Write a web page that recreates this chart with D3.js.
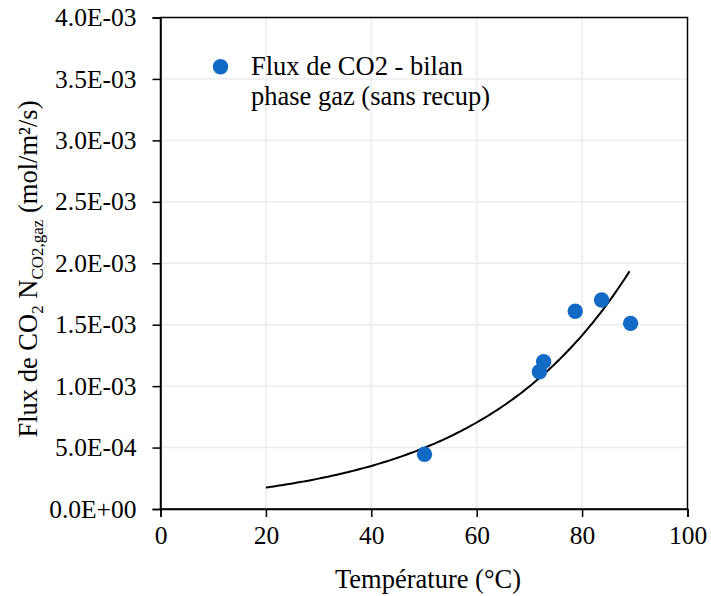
<!DOCTYPE html>
<html><head><meta charset="utf-8">
<script src="https://cdn.jsdelivr.net/npm/d3@7"></script>
<style>body{margin:0;background:#fff}svg{display:block}text{font-family:"Liberation Serif","Times New Roman",serif;fill:#000}</style>
</head><body><svg id="c" width="711" height="596"></svg>
<script>
const temps = [50.1, 71.9, 72.7, 78.7, 83.7, 89.2];
const flux = [0.000445, 0.001117, 0.001199, 0.001609, 0.001701, 0.001511];
const xTicks = [0, 20, 40, 60, 80, 100];
const yTicks = [0, 0.0005, 0.001, 0.0015, 0.002, 0.0025, 0.003, 0.0035, 0.004];
const trendRange = [20, 89];
const seriesName = ["Flux de CO2 - bilan", "phase gaz (sans recup)"];

const svg = d3.select("#c");
const L = 160.5, R = 687.5, T = 17.5, B = 509;
const x = d3.scaleLinear().domain([0, 100]).range([L, R]);
const y = d3.scaleLinear().domain([0, 0.004]).range([B, T]);

// grid
svg.append("g").selectAll("line").data(xTicks.slice(1, -1)).join("line")
  .attr("x1", d => x(d)).attr("x2", d => x(d)).attr("y1", T).attr("y2", B)
  .attr("stroke", "#ececec").attr("stroke-width", 1.5);
svg.append("g").selectAll("line").data(yTicks.slice(1, -1)).join("line")
  .attr("y1", d => y(d)).attr("y2", d => y(d)).attr("x1", L).attr("x2", R)
  .attr("stroke", "#ececec").attr("stroke-width", 1.5);

// frame
svg.append("rect").attr("x", L).attr("y", T).attr("width", R - L).attr("height", B - T)
  .attr("fill", "none").attr("stroke", "#000").attr("stroke-width", 1.5);

// axes
const fmt = d => d === 0 ? "0.0E+00" : d3.format(".1e")(d).replace("e-", "E-0").replace(/E-0(\d\d)/, "E-$1");
const xa = svg.append("g").attr("transform", `translate(0,${B})`)
  .call(d3.axisBottom(x).tickValues(xTicks).tickSize(8).tickPadding(9).tickFormat(d3.format("d")));
const ya = svg.append("g").attr("transform", `translate(${L},0)`)
  .call(d3.axisLeft(y).tickValues(yTicks).tickSize(8).tickPadding(16).tickFormat(fmt));
[xa, ya].forEach(a => {
  a.select(".domain").attr("stroke", "#000").attr("stroke-width", 1.5);
  a.selectAll(".tick line").attr("stroke", "#000").attr("stroke-width", 1.5);
  a.selectAll(".tick text").attr("font-size", 25.5).attr("font-family", "Liberation Serif").attr("fill", "#000");
});

// trend line (exponential least squares fit of the data)
const lx = temps, ly = flux.map(Math.log);
const mx = d3.mean(lx), my = d3.mean(ly);
const b = d3.sum(lx.map((v, i) => (v - mx) * (ly[i] - my))) / d3.sum(lx.map(v => (v - mx) ** 2));
const a = Math.exp(my - b * mx);
const tx = d3.range(trendRange[0], trendRange[1] + 0.001, 0.5);
svg.append("path").datum(tx)
  .attr("d", d3.line().x(d => x(d)).y(d => y(a * Math.exp(b * d))))
  .attr("fill", "none").attr("stroke", "#000").attr("stroke-width", 2);

// points
svg.append("g").selectAll("circle").data(temps).join("circle")
  .attr("cx", d => x(d)).attr("cy", (d, i) => y(flux[i])).attr("r", 7.7).attr("fill", "#136AC4");

// legend
svg.append("circle").attr("cx", 220.5).attr("cy", 66.7).attr("r", 7.7).attr("fill", "#136AC4");
svg.append("text").attr("x", 251).attr("y", 75).attr("font-size", 26.5).text(seriesName[0]);
svg.append("text").attr("x", 251).attr("y", 105).attr("font-size", 26.5).text(seriesName[1]);

// axis titles
svg.append("text").attr("x", (L + R) / 2 + 4).attr("y", 588).attr("text-anchor", "middle")
  .attr("font-size", 26.5).text("Température (°C)");
const yt = svg.append("text").attr("transform", "translate(37,269) rotate(-90)")
  .attr("text-anchor", "middle").attr("font-size", 26.5);
yt.append("tspan").text("Flux de CO");
yt.append("tspan").attr("font-size", 17).attr("dy", 6).text("2");
yt.append("tspan").attr("dy", -6).text(" N");
yt.append("tspan").attr("font-size", 17).attr("dy", 6).text("CO2,gaz");
yt.append("tspan").attr("dy", -6).text(" (mol/m²/s)");
</script></body></html>
